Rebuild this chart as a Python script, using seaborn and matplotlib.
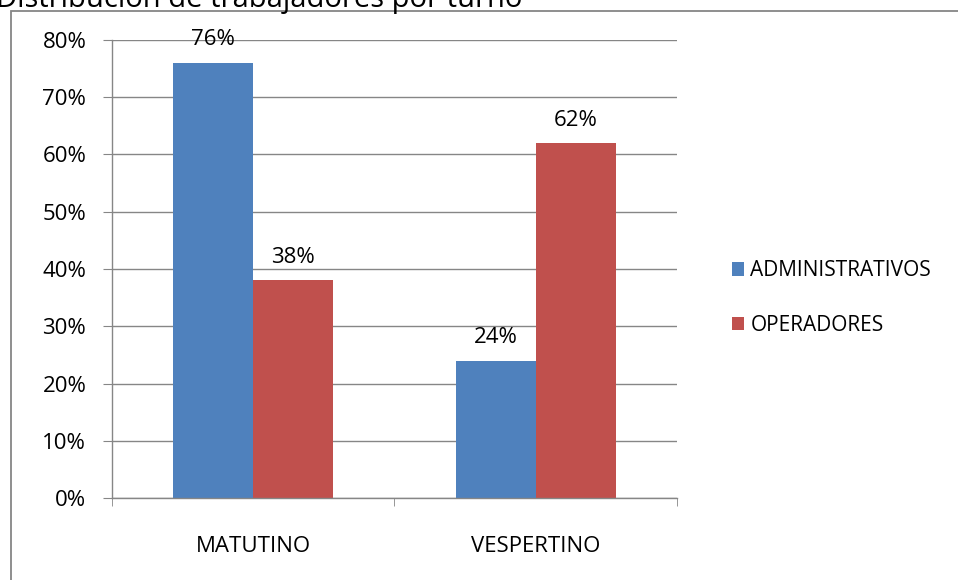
import matplotlib
matplotlib.use("Agg")
import matplotlib.pyplot as plt
import numpy as np
import pandas as pd
import seaborn as sns
from matplotlib.patches import Rectangle
from matplotlib.ticker import PercentFormatter

# %% Data
turnos = ["MATUTINO", "VESPERTINO"]
grupos = ["ADMINISTRATIVOS", "OPERADORES"]
administrativos = [76, 24]
operadores = [38, 62]

COLOURS = {"ADMINISTRATIVOS": "#4F81BD", "OPERADORES": "#C0504D"}

df = pd.DataFrame(
    {
        "Turno": turnos * 2,
        "Grupo": [grupos[0]] * 2 + [grupos[1]] * 2,
        "Valor": administrativos + operadores,
    }
)

# %% Plot
sns.set_style("white")
plt.rcParams["font.family"] = ["Open Sans", "DejaVu Sans"]
plt.rcParams["text.color"] = "black"
plt.rcParams["xtick.color"] = "black"
plt.rcParams["ytick.color"] = "black"

W, H = 958, 580
fig = plt.figure(figsize=(W / 100, H / 100), dpi=100)
ax = fig.add_axes([112 / W, 1 - 498 / H, (677 - 112) / W, (498 - 40) / H])

# outer chart frame
fig.patches.append(
    Rectangle((11 / W, -0.05), 1.2, 1 - 11 / H + 0.05, transform=fig.transFigure,
              fill=False, edgecolor="#868686", lw=1.3, zorder=0)
)

sns.barplot(data=df, x="Turno", y="Valor", hue="Grupo", palette=COLOURS,
            width=0.566, order=turnos, hue_order=grupos, ax=ax, saturation=1,
            linewidth=0, legend=True)

for cont in ax.containers:
    ax.bar_label(cont, labels=[f"{v:.0f}%" for v in cont.datavalues],
                 padding=9, fontsize=16, color="black")

ax.set_xlim(-0.5, 1.5)
ax.set_ylim(0, 80)
ax.set_yticks(np.arange(0, 81, 10))
ax.yaxis.set_major_formatter(PercentFormatter(decimals=0))
ax.set_xlabel("")
ax.set_ylabel("")
ax.grid(axis="y", color="#868686", lw=1)
ax.set_axisbelow(True)
for s in ["top", "right"]:
    ax.spines[s].set_visible(False)
for s in ["left", "bottom"]:
    ax.spines[s].set_color("#868686")
    ax.spines[s].set_linewidth(1)
ax.tick_params(axis="y", left=True, length=6.5, color="#868686",
               labelcolor="black", labelsize=16, pad=12)
ax.tick_params(axis="x", which="major", length=0, labelsize=16,
               labelcolor="black", pad=27)
ax.set_xticks([-0.5, 0.5, 1.5], minor=True)
ax.tick_params(axis="x", which="minor", bottom=True, length=6, color="#868686")

leg = ax.legend(loc="center left", bbox_to_anchor=(713 / W, 1 - 298 / H),
                bbox_transform=fig.transFigure, frameon=False, fontsize=15,
                handlelength=0.6, handleheight=0.6, handletextpad=0.3,
                labelspacing=1.6)

fig.text(-4 / W, 1 - 7 / H, "Distribución de trabajadores por turno",
         fontsize=21, ha="left", va="baseline")

fig.savefig("out.png", dpi=100)
